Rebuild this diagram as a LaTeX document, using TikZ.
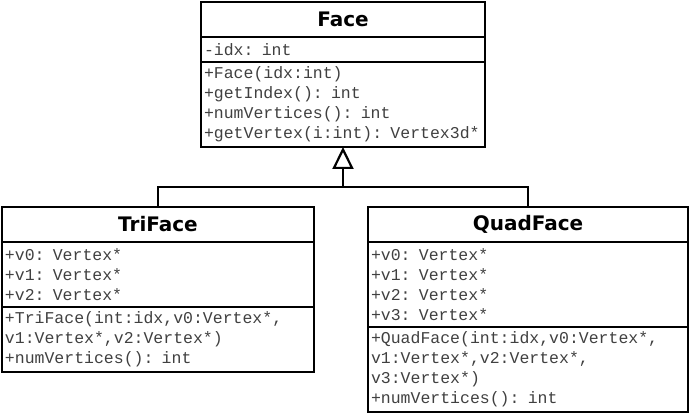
\documentclass[tikz,border=0pt]{standalone}
\usepackage{fontspec}
\usetikzlibrary{positioning,arrows.meta}
\newfontfamily\umltitlefont{DejaVu Sans}
\newfontfamily\umlcodefont{Liberation Mono}
\begin{document}
\begin{tikzpicture}[x=1pt, y=1pt,
    classtitle/.style={draw, line width=2.2pt, anchor=north, inner sep=0pt, outer sep=0pt,
        minimum height=35pt, font=\umltitlefont\bfseries\fontsize{20}{22}\selectfont},
    classpart/.style={draw, line width=2.2pt, align=left, inner xsep=3pt, inner ysep=0pt,
        outer sep=0pt, text=black!75, font=\umlcodefont\fontsize{16.5}{20}\selectfont},
    inherit/.style={line width=2.2pt, -{Triangle[open, length=22pt, width=21pt]}}]
    \useasboundingbox (0,0) rectangle (691,-414);

    % Draw nodes for base class Face
    \node[classtitle, minimum width=284pt] (faceT) at (343,-2) {Face};
    \node[classpart, text width=278pt, minimum height=25pt, below=0pt of faceT] (faceA) {-idx: int};
    \node[classpart, text width=278pt, minimum height=85pt, below=0pt of faceA] (faceM)
        {+Face(idx:int)\\+getIndex(): int\\+numVertices(): int\\+getVertex(i:int): Vertex3d*};

    % Draw nodes for class TriFace
    \node[classtitle, minimum width=312pt] (triT) at (158,-207) {TriFace};
    \node[classpart, text width=306pt, minimum height=65pt, below=0pt of triT] (triA)
        {+v0: Vertex*\\+v1: Vertex*\\+v2: Vertex*};
    \node[classpart, text width=306pt, minimum height=65pt, below=0pt of triA] (triM)
        {+TriFace(int:idx,v0:Vertex*,\\v1:Vertex*,v2:Vertex*)\\+numVertices(): int};

    % Draw nodes for class QuadFace
    \node[classtitle, minimum width=320pt] (quadT) at (528,-207) {QuadFace};
    \node[classpart, text width=314pt, minimum height=85pt, below=0pt of quadT] (quadA)
        {+v0: Vertex*\\+v1: Vertex*\\+v2: Vertex*\\+v3: Vertex*};
    \node[classpart, text width=314pt, minimum height=85pt, below=0pt of quadA] (quadM)
        {+QuadFace(int:idx,v0:Vertex*,\\v1:Vertex*,v2:Vertex*,\\v3:Vertex*)\\+numVertices(): int};

    % Draw generalisation edges
    \coordinate (join) at (343,-187);
    \draw[line width=2.2pt] (triT.north) |- (join) -| (quadT.north);
    \draw[inherit] (join) -- (faceM.south);

\end{tikzpicture}
\end{document}
